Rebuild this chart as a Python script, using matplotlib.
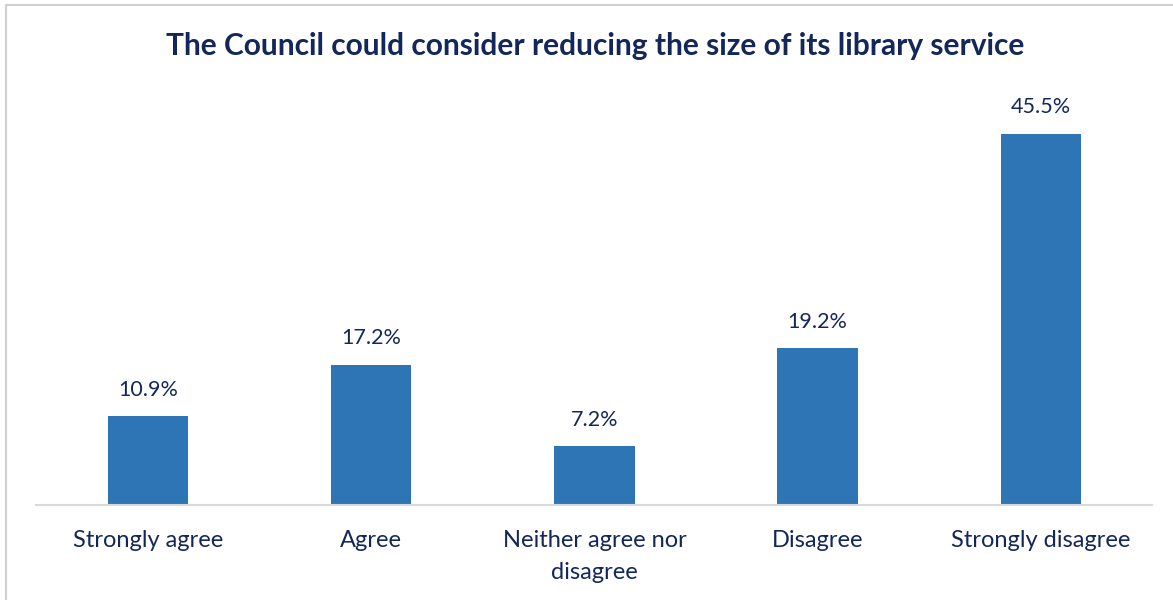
import matplotlib.pyplot as plt
from matplotlib.patches import Rectangle

categories = ['Strongly agree', 'Agree', 'Neither agree nor\ndisagree', 'Disagree', 'Strongly disagree']
values = [10.9, 17.2, 7.2, 19.2, 45.5]

navy = '#13275A'
bar_color = '#2E75B6'

plt.rcParams['font.family'] = ['Lato', 'DejaVu Sans']

fig = plt.figure(figsize=(11.73, 6), dpi=100)
ax = fig.add_axes([0.0311, 0.1583, 0.9514, 0.68])

x = range(len(categories))
ax.bar(x, values, width=0.36, color=bar_color)
for i, v in zip(x, values):
    ax.text(i, v + 2.0, f'{v}%', ha='center', va='bottom', fontsize=15.5, color=navy)

ax.set_xlim(-0.5, len(categories) - 0.5)
ax.set_ylim(0, 50)
ax.set_xticks(list(x))
ax.set_xticklabels(categories, fontsize=17, color=navy, linespacing=1.65)
ax.tick_params(axis='x', length=0, pad=18)
ax.set_yticks([])
for s in ['top', 'right', 'left']:
    ax.spines[s].set_visible(False)
ax.spines['bottom'].set_color('#D9D9D9')
ax.spines['bottom'].set_linewidth(1.5)

fig.text(0.507, 0.924, 'The Council could consider reducing the size of its library service',
         ha='center', va='center', fontsize=21.5, fontweight='bold', color=navy)

# chart border
fig.patches.append(Rectangle((6 / 1173, -0.01), 1.2, 1 - 5 / 600 + 0.01, transform=fig.transFigure,
                             fill=False, edgecolor='#D0D0D0', linewidth=1.5))

fig.savefig('out.png', dpi=100)
